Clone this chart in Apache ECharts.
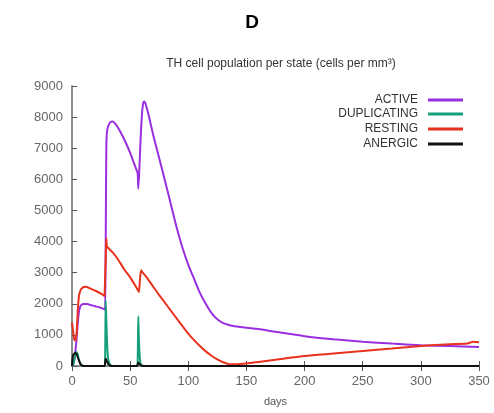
<!DOCTYPE html>
<html><head><meta charset="utf-8">
<script src="https://cdn.jsdelivr.net/npm/echarts@6/dist/echarts.min.js"></script>
<style>html,body{margin:0;padding:0;background:#fff}#c{width:494px;height:413px}</style>
</head><body><div id="c"></div>
<script>
const seriesNames = ['ACTIVE', 'DUPLICATING', 'RESTING', 'ANERGIC'];
const xTicks = [0, 50, 100, 150, 200, 250, 300, 350];
const yTicks = [0, 1000, 2000, 3000, 4000, 5000, 6000, 7000, 8000, 9000];

const activeDays = [0, 1, 2, 3, 4, 5, 6, 7, 8, 10, 13, 16, 20, 24, 28, 28.5, 29, 29.5, 30, 31, 33, 35, 38, 42, 46, 50, 54, 56, 56.5, 57, 58, 59, 60, 61, 62, 63, 64, 66, 70, 75, 80, 85, 90, 95, 100, 105, 110, 115, 120, 125, 130, 135, 140, 150, 160, 175, 200, 225, 250, 275, 300, 325, 350];
const activeVals = [0, 50, 200, 500, 900, 1400, 1750, 1900, 1960, 1990, 1990, 1960, 1920, 1880, 1820, 1800, 4000, 7000, 7500, 7700, 7840, 7860, 7750, 7500, 7200, 6850, 6450, 6250, 6200, 5700, 6400, 7300, 8000, 8400, 8500, 8460, 8330, 8050, 7400, 6680, 5950, 5200, 4450, 3800, 3250, 2800, 2350, 2000, 1700, 1500, 1380, 1320, 1280, 1230, 1190, 1100, 960, 860, 780, 720, 670, 640, 610];

const dupDays = [0, 1, 2, 3, 4, 5, 6, 7, 8, 10, 28, 28.5, 29, 29.5, 30, 30.5, 31, 32, 33, 35, 56, 56.5, 57, 57.5, 58, 58.5, 59, 60, 62, 350];
const dupVals = [0, 50, 200, 400, 450, 350, 200, 100, 40, 0, 0, 300, 2100, 1500, 900, 500, 250, 100, 30, 0, 0, 200, 1600, 900, 450, 200, 80, 20, 0, 0];

const restDays = [0, 1, 2, 3, 4, 5, 6, 7, 8, 10, 12, 15, 20, 25, 28, 28.5, 29, 29.5, 30, 31, 35, 40, 45, 50, 55, 56.5, 57.5, 58.5, 59.5, 60.5, 62, 65, 70, 75, 80, 85, 90, 95, 100, 105, 110, 115, 120, 125, 130, 135, 140, 150, 162, 175, 200, 225, 250, 275, 300, 325, 340, 345, 350];
const restVals = [1400, 1100, 850, 820, 1100, 1800, 2250, 2400, 2480, 2540, 2550, 2500, 2420, 2330, 2250, 2250, 3500, 4100, 3850, 3800, 3650, 3400, 3100, 2850, 2550, 2450, 2380, 2800, 3080, 3020, 2950, 2810, 2540, 2280, 2030, 1780, 1530, 1280, 1040, 830, 640, 470, 330, 210, 120, 60, 55, 80, 140, 200, 320, 400, 480, 560, 640, 700, 720, 780, 760];

const anergDays = [0, 0.5, 1, 2, 3, 4, 5, 6, 7, 8, 10, 28, 28.5, 29, 29.5, 30, 31, 32, 34, 56, 56.5, 57, 58, 59, 61, 350];
const anergVals = [0, 250, 350, 400, 420, 380, 280, 170, 80, 30, 0, 0, 100, 230, 200, 150, 80, 30, 0, 0, 60, 110, 70, 30, 0, 0];

const colors = ['#9a2fe0', '#14a078', '#e8321e', '#111111'];
const zip = (a, b) => a.map((d, i) => [d, b[i]]);
const allData = [zip(activeDays, activeVals), zip(dupDays, dupVals), zip(restDays, restVals), zip(anergDays, anergVals)];

const chart = echarts.init(document.getElementById('c'));
const font = 'Liberation Sans, Arial, sans-serif';
const legendTops = [94, 108, 123, 138];
chart.setOption({
  animation: false,
  title: [
    {text: 'D', left: '50%', textAlign: 'center', top: 8, textStyle: {fontSize: 19, fontWeight: 'bold', color: '#000', fontFamily: font}},
    {text: 'TH cell population per state (cells per mm\u00b3)', left: 276, textAlign: 'center', top: 53, textStyle: {fontSize: 12, fontWeight: 'normal', color: '#333', fontFamily: font}}
  ],
  legend: seriesNames.map((n, i) => ({
    data: [n], right: 31, top: legendTops[i], align: 'right', orient: 'vertical',
    icon: 'rect', itemWidth: 35, itemHeight: 3, itemGap: 0, padding: 0,
    textStyle: {fontSize: 12, color: '#333', fontFamily: font, padding: [0, 5, 0, 0]},
    selectedMode: false
  })),
  grid: {left: 72, right: 15, top: 86, bottom: 47},
  xAxis: [
    {type: 'value', min: 0, max: 350, interval: 50, name: 'days', nameLocation: 'middle', nameGap: 30,
     nameTextStyle: {fontSize: 11, color: '#555', fontFamily: font},
     axisLine: {show: true, lineStyle: {color: '#888', width: 1.5}},
     axisTick: {show: true, inside: true, length: 5, lineStyle: {color: '#555'}},
     axisLabel: {fontSize: 13, color: '#666', fontFamily: font, margin: 9, formatter: v => xTicks.includes(v) ? String(v) : ''},
     splitLine: {show: false}},
    {type: 'value', position: 'top', min: 0, max: 350, interval: 50,
     axisLine: {show: true, lineStyle: {color: '#888', width: 1.5}},
     axisTick: {show: true, inside: true, length: 5, lineStyle: {color: '#555'}},
     axisLabel: {show: false}, splitLine: {show: false}}
  ],
  yAxis: [
    {type: 'value', min: 0, max: 9000, interval: 1000,
     axisLine: {show: true, lineStyle: {color: '#888', width: 1.5}},
     axisTick: {show: true, inside: true, length: 5, lineStyle: {color: '#555'}},
     axisLabel: {fontSize: 13, color: '#666', fontFamily: font, margin: 9, formatter: v => yTicks.includes(v) ? String(v) : ''},
     splitLine: {show: false}},
    {type: 'value', position: 'right', min: 0, max: 9000, interval: 1000,
     axisLine: {show: true, lineStyle: {color: '#888', width: 1.5}},
     axisTick: {show: false}, axisLabel: {show: false}, splitLine: {show: false}}
  ],
  series: seriesNames.map((n, i) => ({
    name: n, type: 'line', data: allData[i], showSymbol: false, symbol: 'none',
    smooth: 0.25, color: colors[i], lineStyle: {width: 2, color: colors[i]}, z: 2 + i
  }))
});
</script></body></html>
